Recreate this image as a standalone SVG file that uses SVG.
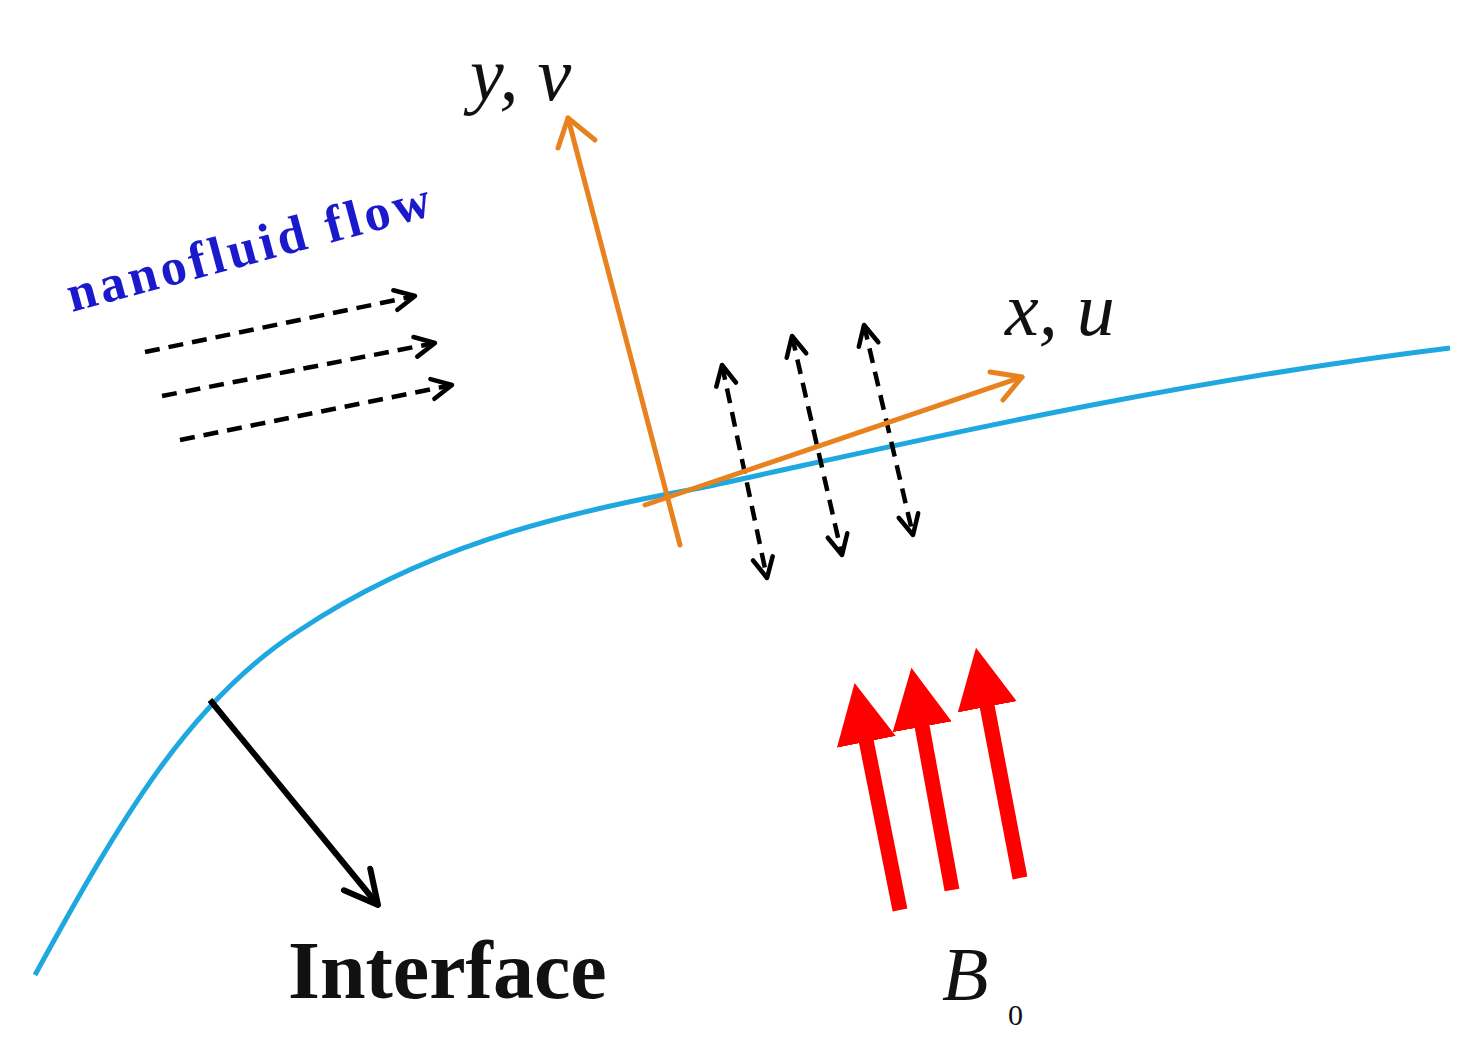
<svg xmlns="http://www.w3.org/2000/svg" width="1484" height="1057" viewBox="0 0 1484 1057">
<style>
.dash{fill:none;stroke:#000;stroke-width:4.5;stroke-dasharray:15 9}
.head{fill:none;stroke:#000;stroke-width:4.5;stroke-linecap:round;stroke-linejoin:round}
.or{fill:none;stroke:#e8821e;stroke-width:5;stroke-linecap:round;stroke-linejoin:round}
.red{fill:none;stroke:#ff0000;stroke-width:15}
.lab{font-family:"Liberation Serif",serif;font-style:italic;font-size:76px;fill:#111}
</style>
<defs>
<marker id="oh" viewBox="0 0 26 26" refX="23" refY="13" markerWidth="26" markerHeight="26" markerUnits="userSpaceOnUse" orient="auto-start-reverse">
<path d="M3,3 L23,13 L3,23" class="head"/></marker>
<marker id="bh" viewBox="0 0 40 40" refX="37" refY="20" markerWidth="40" markerHeight="40" markerUnits="userSpaceOnUse" orient="auto">
<path d="M4,3 L37,20 L4,37" fill="none" stroke="#000" stroke-width="6" stroke-linecap="round" stroke-linejoin="round"/></marker>
<marker id="rh" viewBox="0 0 10 10" refX="2" refY="5" markerWidth="4" markerHeight="5" orient="auto"><path d="M0,0 L10,5 L0,10 Z" fill="#ff0000"/></marker>
</defs>
<rect width="1484" height="1057" fill="#fff"/>
<path id="curve" d="M35,975 C120,820 190,700 300,630 C420,550 550,515 700,488 C900,445 1150,385 1450,348" fill="none" stroke="#1fa8e0" stroke-width="5"/>
<g id="connectors">
<line x1="145" y1="352" x2="415" y2="296" class="dash" marker-end="url(#oh)"/>
<line x1="162" y1="396" x2="435" y2="343" class="dash" marker-end="url(#oh)"/>
<line x1="180" y1="440" x2="452" y2="385" class="dash" marker-end="url(#oh)"/>
<line x1="722" y1="365" x2="767" y2="578" class="dash" marker-start="url(#oh)" marker-end="url(#oh)"/>
<line x1="792" y1="336" x2="842" y2="555" class="dash" marker-start="url(#oh)" marker-end="url(#oh)"/>
<line x1="864" y1="325" x2="913" y2="535" class="dash" marker-start="url(#oh)" marker-end="url(#oh)"/>
<line x1="210" y1="700" x2="378" y2="905" stroke="#000" stroke-width="6" marker-end="url(#bh)"/>
</g>
<g id="axes">
<line x1="680" y1="545" x2="568" y2="118" class="or"/>
<path d="M558,148 L568,118 L595,140" class="or"/>
<line x1="645" y1="505" x2="1022" y2="377" class="or"/>
<path d="M990,372 L1022,377 L1003,400" class="or"/>
</g>
<g id="field">
<line x1="900" y1="910" x2="864" y2="730" class="red" marker-end="url(#rh)"/>
<line x1="952" y1="890" x2="920" y2="715" class="red" marker-end="url(#rh)"/>
<line x1="1020" y1="878" x2="985" y2="695" class="red" marker-end="url(#rh)"/>
</g>
<text class="lab" x="470" y="100">y, v</text>
<text class="lab" x="1005" y="335">x, u</text>
<text x="72" y="312" transform="rotate(-15 72 312)" font-family="Liberation Serif,serif" font-weight="bold" font-size="52" letter-spacing="4" fill="#1a1acc">nanofluid flow</text>
<text x="288" y="998" font-family="Liberation Serif,serif" font-weight="bold" font-size="82" fill="#111">Interface</text>
<text class="lab" x="942" y="1000" font-size="92">B</text>
<text x="1008" y="1025" font-family="Liberation Serif,serif" font-size="30" fill="#111">0</text>
</svg>
